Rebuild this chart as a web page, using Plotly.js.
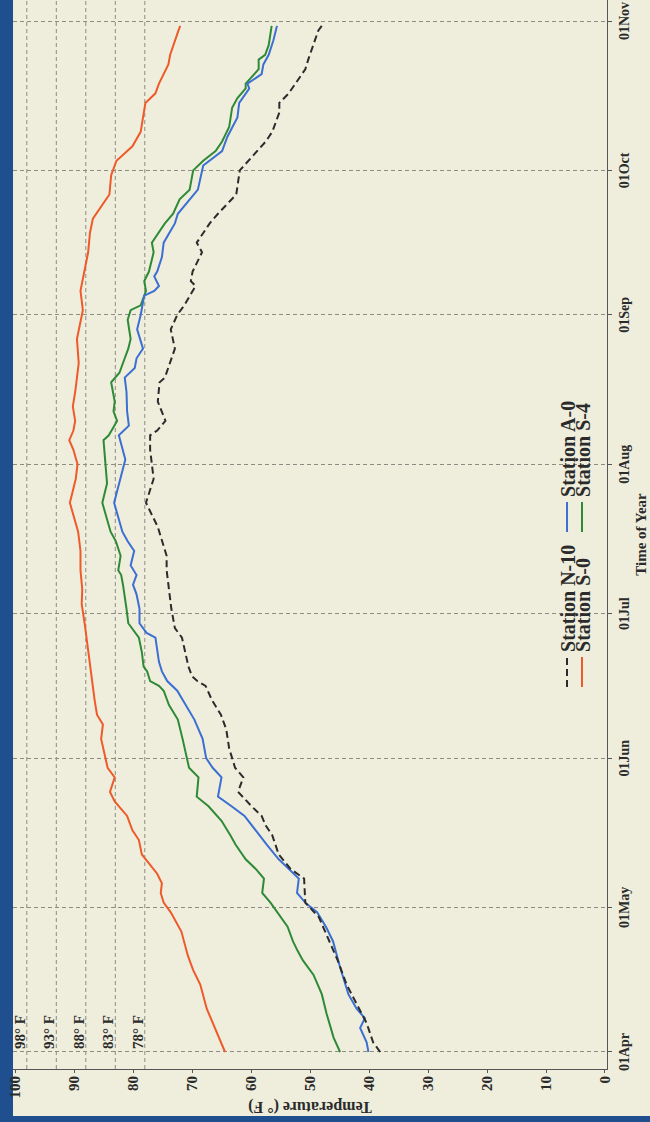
<!DOCTYPE html>
<html><head><meta charset="utf-8">
<script src="https://cdn.plot.ly/plotly-3.0.1.min.js"></script>
<style>
html,body{margin:0;padding:0;width:650px;height:1122px;overflow:hidden;background:#1f4f8f;}
#frame{position:absolute;left:0;top:0;width:1122px;height:650px;background:#1f4f8f;transform-origin:0 0;transform:translate(0,1122px) rotate(-90deg);}
#chart{position:absolute;left:6px;top:8px;width:1116px;height:642px;}
</style></head><body>
<div id="frame"><div id="chart"></div></div>
<script>
const YEAR = '2001';
const refTemps = [98, 93, 88, 83, 78];

const n10Dates = ['04-01','04-03','04-07','04-11','04-15','04-20','04-24','04-29','05-02','05-07','05-09','05-12','05-16','05-18','05-20','05-22','05-25','05-28','05-30','06-03','06-07','06-10','06-13','06-16','06-17','06-18','06-20','06-23','06-26','06-28','07-02','07-05','07-07','07-10','07-13','07-16','07-19','07-24','07-29','08-04','08-07','08-08','08-10','08-14','08-18','08-19','08-25','08-29','09-01','09-03','09-07','09-08','09-10','09-14','09-16','09-20','09-22','09-26','10-01','10-04','10-07','10-09','10-13','10-15','10-17','10-22','10-24','10-30','10-31'];
const n10Temps = [38.1,39.3,40.4,42.1,43.8,45.3,46.7,48.5,50.8,51.0,53.3,55.3,56.4,57.5,58.2,59.9,62.2,61.3,62.7,63.7,64.2,65.1,66.6,67.7,69.1,70.0,70.6,71.1,71.7,72.9,73.5,73.8,74.0,74.3,74.3,75.0,75.8,77.8,76.5,77.1,77.1,75.9,74.5,75.8,75.5,74.6,72.9,73.6,72.5,71.3,69.4,70.2,69.9,68.3,69.2,67.0,65.6,62.5,61.9,59.7,57.5,56.4,55.2,55.2,53.6,50.8,50.3,48.6,48.0];

const a0Dates = ['04-01','04-03','04-06','04-08','04-10','04-13','04-19','04-24','04-27','04-30','05-02','05-04','05-07','05-09','05-11','05-14','05-17','05-20','05-22','05-24','05-28','05-30','06-01','06-05','06-09','06-12','06-15','06-17','06-19','06-21','06-26','06-27','06-29','07-02','07-05','07-07','07-09','07-11','07-14','07-16','07-18','07-24','07-28','08-02','08-07','08-09','08-12','08-16','08-19','08-21','08-23','08-25','08-29','09-01','09-05','09-06','09-07','09-09','09-10','09-13','09-16','09-20','09-22','09-25','09-27','10-02','10-05','10-08','10-12','10-15','10-18','10-19','10-21','10-23','10-25','10-28','10-31'];
const a0Temps = [40.1,40.4,41.5,40.7,42.1,43.5,45.0,46.1,47.3,48.8,50.8,52.2,51.9,53.6,55.3,57.3,59.2,61.1,63.3,65.6,65.0,66.5,67.6,68.2,69.6,71.1,72.5,74.2,75.1,75.6,76.2,77.7,78.9,78.9,79.4,80.0,79.4,80.4,79.8,80.9,81.8,83.2,82.4,81.3,82.4,80.7,81.0,81.1,81.4,79.7,79.4,78.3,79.3,78.7,78.1,76.4,75.6,76.4,75.9,75.1,74.8,72.9,72.4,70.4,69.0,68.1,64.9,64.0,62.3,62.0,60.3,60.6,58.2,57.9,57.0,56.2,55.6];

const s0Dates = ['04-01','04-06','04-10','04-15','04-18','04-21','04-26','04-30','05-02','05-04','05-06','05-08','05-11','05-12','05-15','05-17','05-20','05-23','05-25','05-28','05-30','06-02','06-05','06-08','06-10','06-13','06-17','06-21','06-25','06-29','07-03','07-06','07-10','07-14','07-18','07-21','07-24','07-26','07-29','08-01','08-04','08-06','08-08','08-10','08-13','08-16','08-19','08-22','08-27','08-31','09-02','09-06','09-10','09-14','09-18','09-21','09-26','09-30','10-03','10-06','10-09','10-14','10-15','10-17','10-19','10-23','10-25','10-30','10-31'];
const s0Temps = [64.4,66.1,67.5,68.6,69.8,70.7,71.8,73.6,74.8,75.3,75.1,75.9,77.9,78.5,79.0,80.1,81.0,83.1,83.9,83.1,84.3,84.9,85.4,85.1,86.1,86.5,86.9,87.3,87.8,88.2,88.7,88.6,88.9,88.9,89.3,90.0,90.7,90.3,89.7,89.4,90.1,90.8,90.1,89.8,90.2,89.8,89.5,89.2,89.5,88.9,88.5,88.9,88.2,87.6,87.3,86.8,84.0,83.7,82.8,80.1,78.7,78.1,77.9,76.2,75.6,74.0,73.7,72.3,72.0];

const s4Dates = ['04-01','04-04','04-09','04-13','04-17','04-20','04-22','04-24','04-27','04-29','05-02','05-04','05-07','05-09','05-11','05-14','05-16','05-19','05-22','05-24','05-28','05-30','06-02','06-05','06-09','06-12','06-15','06-16','06-17','06-19','06-20','06-23','06-26','06-29','07-02','07-05','07-07','07-09','07-10','07-13','07-16','07-18','07-24','07-28','08-02','08-06','08-07','08-10','08-12','08-14','08-18','08-20','08-23','08-25','08-27','08-31','09-02','09-03','09-06','09-08','09-10','09-14','09-16','09-20','09-22','09-25','09-27','10-01','10-03','10-05','10-07','10-10','10-14','10-16','10-18','10-19','10-22','10-24','10-25','10-27','10-31'];
const s4Temps = [44.9,46.0,47.2,48.0,49.4,51.2,52.1,52.9,53.8,55.0,56.7,58.1,57.8,59.2,60.9,62.6,63.5,65.0,67.2,69.2,68.9,70.5,71.0,71.6,72.4,73.9,74.8,75.6,77.1,77.6,78.2,78.5,79.0,80.8,81.1,81.4,81.7,82.0,82.5,82.1,82.9,83.8,85.2,84.4,84.7,85.0,84.1,82.7,83.3,83.1,83.7,82.3,81.4,80.8,80.4,80.9,80.4,78.7,77.8,78.1,77.3,76.5,76.8,74.6,73.2,72.1,70.4,69.8,68.1,66.0,64.9,63.7,63.2,62.3,60.9,60.9,58.7,58.7,57.6,57.0,56.5];

function toDates(arr) { return arr.map(d => YEAR + '-' + d); }

const serif = 'Liberation Serif, Times New Roman, serif';
const ink = '#2b2b2b';
const gridCol = '#8d8b82';
const gridDash = '4px,3px';
const frameBlue = '#1f4f8f';

const traces = [
  {name: 'Station S-0', x: toDates(s0Dates), y: s0Temps, mode: 'lines', line: {color: '#ef5a2a', width: 2}, legend: 'legend2', legendrank: 1},
  {name: 'Station S-4', x: toDates(s4Dates), y: s4Temps, mode: 'lines', line: {color: '#2e8a36', width: 2}, legend: 'legend2', legendrank: 2},
  {name: 'Station A-0', x: toDates(a0Dates), y: a0Temps, mode: 'lines', line: {color: '#3b6fd3', width: 2}, legend: 'legend', legendrank: 2},
  {name: 'Station N-10', x: toDates(n10Dates), y: n10Temps, mode: 'lines', line: {color: ink, width: 2, dash: '7px,4px'}, legend: 'legend', legendrank: 1}
];

const legendBase = {
  orientation: 'h', xanchor: 'left', yanchor: 'middle',
  bgcolor: 'rgba(0,0,0,0)', borderwidth: 0,
  font: {family: serif, size: 20, color: ink, weight: 'bold'},
  entrywidth: 110, entrywidthmode: 'pixels', traceorder: 'normal'
};

const refShapes = refTemps.map(t => ({
  type: 'line', xref: 'paper', x0: 0, x1: 1, yref: 'y', y0: t, y1: t,
  line: {color: gridCol, width: 1, dash: gridDash}, layer: 'below'
}));
// blue scan border strip along the top edge of the page (in margin)
refShapes.push({type: 'rect', xref: 'paper', x0: -0.05, x1: 1.01, yref: 'paper', y0: 1, y1: 1.02,
  fillcolor: frameBlue, line: {width: 0}, layer: 'below'});

const layout = {
  width: 1116, height: 642,
  margin: {l: 47, r: 0, t: 5, b: 43, pad: 0},
  paper_bgcolor: '#efeedc', plot_bgcolor: '#efeedc',
  font: {family: serif, color: ink, size: 14, weight: 'bold'},
  showlegend: true,
  xaxis: {
    type: 'date', range: [YEAR + '-03-28 11:17', YEAR + '-11-05 08:53'],
    tick0: YEAR + '-04-01', dtick: 'M1', tickformat: '%d%b',
    showgrid: true, gridcolor: gridCol, gridwidth: 1, griddash: gridDash,
    showline: true, linecolor: '#555', linewidth: 1, zeroline: false,
    ticks: 'outside', ticklen: 4, tickcolor: '#555',
    tickfont: {family: serif, size: 14, color: ink, weight: 'bold'},
    title: {text: 'Time of Year', font: {family: serif, size: 15, color: ink, weight: 'bold'}, standoff: 4},
    automargin: false
  },
  yaxis: {
    range: [-0.34, 100.34], tick0: 0, dtick: 10,
    showgrid: false, zeroline: false, showline: true, linecolor: '#555', linewidth: 1,
    ticks: 'outside', ticklen: 3, tickcolor: '#555', ticklabeloverflow: 'allow',
    tickfont: {family: serif, size: 15, color: ink, weight: 'bold'},
    title: {text: 'Temperature (° F)', font: {family: serif, size: 16, color: ink, weight: 'bold'}, standoff: 2},
    automargin: false
  },
  legend: Object.assign({}, legendBase, {x: 0.3527, y: 0.0673}),
  legend2: Object.assign({}, legendBase, {x: 0.3527, y: 0.0421}),
  shapes: refShapes,
  annotations: refTemps.map(t => ({
    text: t + '° F', xref: 'x', x: YEAR + '-04-01', xanchor: 'left', xshift: 1,
    yref: 'y', y: t, yanchor: 'bottom', yshift: -3, showarrow: false,
    font: {family: serif, size: 15, color: ink, weight: 'bold'}
  }))
};

Plotly.newPlot('chart', traces, layout, {staticPlot: true, displayModeBar: false});
</script></body></html>
